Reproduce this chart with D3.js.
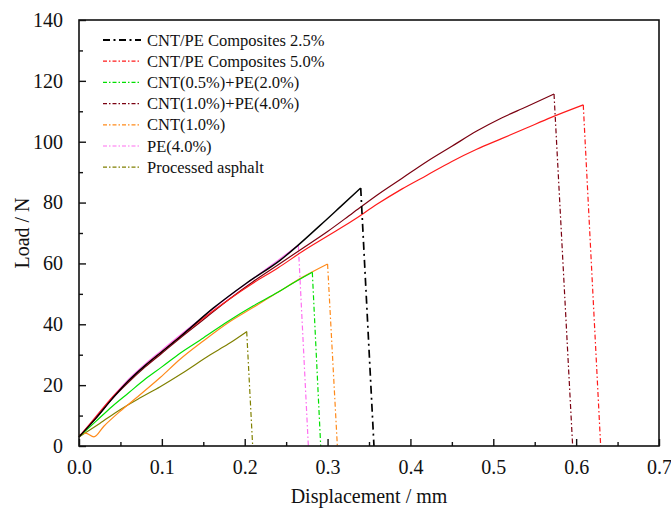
<!DOCTYPE html>
<html>
<head>
<meta charset="utf-8">
<script src="https://cdn.jsdelivr.net/npm/d3@7/dist/d3.min.js"></script>
<style>
  html, body { margin: 0; padding: 0; background: #fff; }
  svg { display: block; }
</style>
</head>
<body>
<svg id="chart" width="671" height="516"></svg>
<script>
// Load–displacement curves (displacement in mm, load in N)
const seriesNames = [
  "CNT/PE Composites 2.5%",
  "CNT/PE Composites 5.0%",
  "CNT(0.5%)+PE(2.0%)",
  "CNT(1.0%)+PE(4.0%)",
  "CNT(1.0%)",
  "PE(4.0%)",
  "Processed asphalt"
];
const seriesColors = ["#000000", "#ff1a1a", "#00e000", "#7a0010", "#ff8a1a", "#ff6ef0", "#808000"];

const dispCNTPE25 = [0, 0.02, 0.04, 0.06, 0.08, 0.10, 0.122, 0.162, 0.202, 0.243, 0.291, 0.315, 0.340, 0.356];
const loadCNTPE25 = [3, 9, 15.5, 21.5, 26.5, 31, 35.9, 45.3, 53.5, 61.1, 72.5, 78.5, 84.8, 0];

const dispCNTPE50 = [0, 0.02, 0.04, 0.06, 0.08, 0.10, 0.12, 0.15, 0.18, 0.21, 0.24, 0.27, 0.30, 0.33, 0.36, 0.39, 0.42, 0.45, 0.48, 0.51, 0.54, 0.57, 0.6086, 0.6296];
const loadCNTPE50 = [3, 9.5, 16, 21.5, 26.5, 31, 35.5, 42, 48, 53.5, 58.5, 64, 69, 74, 79.5, 84.5, 89, 93.5, 97.5, 101, 104.5, 108, 112.1, 0];

const dispCNT05PE20 = [0, 0.02, 0.04, 0.06, 0.08, 0.10, 0.122, 0.15, 0.18, 0.21, 0.24, 0.26, 0.2816, 0.2917];
const loadCNT05PE20 = [3, 8, 13, 17.5, 22, 26, 30.5, 35.5, 41, 46, 50.5, 53.8, 57.1, 0];

const dispCNT10PE40 = [0, 0.02, 0.04, 0.06, 0.08, 0.10, 0.12, 0.15, 0.18, 0.21, 0.24, 0.27, 0.30, 0.33, 0.36, 0.39, 0.42, 0.45, 0.48, 0.51, 0.54, 0.5733, 0.5958];
const loadCNT10PE40 = [3, 9, 15.5, 21, 26, 30.5, 35, 41.5, 48, 54, 59.5, 65, 70.5, 76.5, 82.5, 88, 93.5, 98.5, 103.5, 107.8, 111.5, 115.7, 0];

const dispCNT10 = [0, 0.008, 0.018, 0.03, 0.05, 0.07, 0.098, 0.122, 0.15, 0.18, 0.21, 0.24, 0.27, 0.300, 0.3118];
const loadCNT10 = [3.6, 4.2, 3, 6.5, 11.5, 16, 22.5, 28.5, 34.5, 40.5, 45.5, 50.5, 55.5, 59.8, 0];

const dispPE40 = [0, 0.02, 0.04, 0.06, 0.08, 0.10, 0.12, 0.15, 0.18, 0.21, 0.24, 0.2647, 0.2768];
const loadPE40 = [3, 9.5, 16, 22, 27, 31.5, 36, 42.5, 49, 55, 61, 66, 0];

const dispAsphalt = [0, 0.025, 0.05, 0.075, 0.098, 0.125, 0.158, 0.18, 0.2024, 0.2096];
const loadAsphalt = [3, 7.4, 12, 16, 19.5, 24, 29.9, 33.5, 37.6, 0];

const xTicks = [0, 0.1, 0.2, 0.3, 0.4, 0.5, 0.6, 0.7];
const yTicks = [0, 20, 40, 60, 80, 100, 120, 140];

const dispArrays = [dispCNTPE25, dispCNTPE50, dispCNT05PE20, dispCNT10PE40, dispCNT10, dispPE40, dispAsphalt];
const loadArrays = [loadCNTPE25, loadCNTPE50, loadCNT05PE20, loadCNT10PE40, loadCNT10, loadPE40, loadAsphalt];

const series = seriesNames.map((name, i) => ({
  name,
  color: seriesColors[i],
  points: dispArrays[i].map((d, j) => ({ d, l: loadArrays[i][j] }))
}));

const FONT = '"Times New Roman", "Liberation Serif", serif';
const W = 671, H = 516;
const margin = { top: 20, right: 12, bottom: 70, left: 79 };
const svg = d3.select("#chart").style("font-family", FONT);

const x = d3.scaleLinear().domain([0, 0.7]).range([margin.left, W - margin.right]);
const y = d3.scaleLinear().domain([0, 140]).range([H - margin.bottom, margin.top]);

const rise = d3.line().x(p => x(p.d)).y(p => y(p.l)).curve(d3.curveMonotoneX);
const drop = d3.line().x(p => x(p.d)).y(p => y(p.l));

// curves: loading branch continuous, failure drop dash-dot
const curves = svg.append("g");
series.slice().reverse().forEach(s => {
  const isBlack = s.color === "#000000";
  const n = s.points.length;
  curves.append("path")
    .attr("d", rise(s.points.slice(0, n - 1)))
    .attr("fill", "none")
    .attr("stroke", s.color)
    .attr("stroke-width", isBlack ? 1.4 : 1.2)
    .attr("stroke-linejoin", "round");
  curves.append("path")
    .attr("d", drop(s.points.slice(n - 2)))
    .attr("fill", "none")
    .attr("stroke", s.color)
    .attr("stroke-width", isBlack ? 1.7 : 1.2)
    .attr("stroke-dasharray", isBlack ? "8,4,2,4" : "5,2.5,1.5,2.5");
});

// frame
svg.append("rect")
  .attr("x", margin.left).attr("y", margin.top)
  .attr("width", W - margin.right - margin.left)
  .attr("height", H - margin.bottom - margin.top)
  .attr("fill", "none").attr("stroke", "#111").attr("stroke-width", 1.6);

// bottom axis, inward ticks
const xAxis = d3.axisBottom(x).tickValues(xTicks).tickSizeInner(-7).tickSizeOuter(0)
  .tickFormat(d3.format(".1f")).tickPadding(14);
const gx = svg.append("g").attr("transform", `translate(0,${y(0)})`).call(xAxis)
  .attr("font-family", null);
gx.select(".domain").remove();
gx.selectAll(".tick line").attr("stroke", "#111").attr("stroke-width", 1.4);
gx.selectAll(".tick text").attr("font-size", 20).style("font-family", FONT).attr("fill", "#111");

const xMinor = d3.axisBottom(x).tickValues(d3.range(0.05, 0.7, 0.1)).tickSize(-4).tickFormat("");
const gxm = svg.append("g").attr("transform", `translate(0,${y(0)})`).call(xMinor);
gxm.select(".domain").remove();
gxm.selectAll(".tick line").attr("stroke", "#111").attr("stroke-width", 1.4);

// left axis, inward ticks
const yAxis = d3.axisLeft(y).tickValues(yTicks).tickSizeInner(-7).tickSizeOuter(0).tickPadding(16);
const gy = svg.append("g").attr("transform", `translate(${x(0)},0)`).call(yAxis)
  .attr("font-family", null);
gy.select(".domain").remove();
gy.selectAll(".tick line").attr("stroke", "#111").attr("stroke-width", 1.4);
gy.selectAll(".tick text").attr("font-size", 20).style("font-family", FONT).attr("fill", "#111");

const yMinor = d3.axisLeft(y).tickValues(d3.range(10, 140, 20)).tickSize(-4).tickFormat("");
const gym = svg.append("g").attr("transform", `translate(${x(0)},0)`).call(yMinor);
gym.select(".domain").remove();
gym.selectAll(".tick line").attr("stroke", "#111").attr("stroke-width", 1.4);

// axis titles
svg.append("text")
  .attr("x", (margin.left + W - margin.right) / 2).attr("y", 503)
  .attr("text-anchor", "middle").attr("font-size", 20).attr("fill", "#111")
  .style("font-family", FONT)
  .text("Displacement / mm");
svg.append("text")
  .attr("transform", `translate(29,${(margin.top + H - margin.bottom) / 2}) rotate(-90)`)
  .attr("text-anchor", "middle").attr("font-size", 20).attr("fill", "#111")
  .style("font-family", FONT)
  .text("Load / N");

// legend
const legend = svg.append("g");
series.forEach((s, i) => {
  const ly = 40 + i * 21.2;
  const isBlack = s.color === "#000000";
  legend.append("line")
    .attr("x1", 103).attr("x2", 141).attr("y1", ly).attr("y2", ly)
    .attr("stroke", s.color)
    .attr("stroke-width", isBlack ? 1.8 : 1.2)
    .attr("stroke-dasharray", isBlack ? "7,3.5,2,3.5" : "4,2,1.5,2");
  legend.append("text")
    .attr("x", 147).attr("y", ly + 5.5)
    .attr("font-size", 16.5).attr("fill", "#111")
    .style("font-family", FONT)
    .text(s.name);
});
</script>
</body>
</html>
